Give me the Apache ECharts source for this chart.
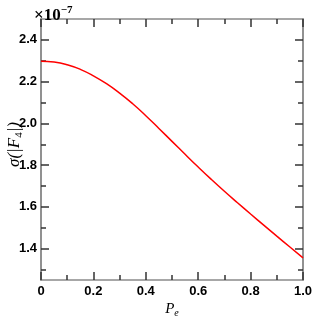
<!DOCTYPE html>
<html><head><meta charset="utf-8">
<script src="https://cdn.jsdelivr.net/npm/echarts@6/dist/echarts.min.js"></script>
<style>html,body{margin:0;padding:0;background:#fff}#c{width:317px;height:317px}</style>
</head><body><div id="c"></div>
<script>
const peValues = [0,0.05,0.1,0.15,0.2,0.25,0.3,0.35,0.4,0.45,0.5,0.55,0.6,0.65,0.7,0.75,0.8,0.85,0.9,0.95,1.0];
const sigmaValues = [2.298,2.294,2.281,2.259,2.228,2.190,2.145,2.094,2.037,1.976,1.914,1.852,1.791,1.732,1.675,1.620,1.566,1.513,1.460,1.408,1.356];
const yMajorTicks = [1.4,1.6,1.8,2.0,2.2,2.4];
const yMinorTicks = [1.3,1.5,1.7,1.9,2.1,2.3];
const yMin = 1.25, yMax = 2.5;

const axisLineColor = '#8a8a8a';
const tickColor = '#333';
const labelFont = {fontFamily:'Liberation Sans, Arial', fontWeight:'bold', fontSize:13, color:'#000'};

function yAx(pos, ticks, len, showLabel, extra){
  return Object.assign({
    type:'value', position:pos, min:yMin, max:yMax,
    axisLine:{show:true, onZero:false, lineStyle:{color:axisLineColor, width:1.5}},
    axisTick:{show:true, inside:true, length:len, customValues:ticks, lineStyle:{color:tickColor, width:1.5}},
    axisLabel:{show:showLabel, customValues:ticks, margin:4, formatter:v=>v.toFixed(1), ...labelFont},
    splitLine:{show:false}
  }, extra||{});
}

const chart = echarts.init(document.getElementById('c'));
chart.setOption({
  animation:false,
  grid:{left:41, right:14, top:19, bottom:37, containLabel:false, outerBoundsMode:'none'},
  title:{
    left:29, top:0,
    text:'{b|×10}{s|−7}',
    textStyle:{rich:{
      b:{fontFamily:'Liberation Serif, Times New Roman', fontSize:17, color:'#000', lineHeight:19, verticalAlign:'bottom'},
      s:{fontFamily:'Liberation Serif, Times New Roman', fontSize:11, color:'#000', lineHeight:19, verticalAlign:'top'}
    }}
  },
  xAxis:[
    {type:'value', position:'bottom', min:0, max:1, interval:0.2,
     axisLine:{show:true, onZero:false, lineStyle:{color:axisLineColor, width:1.5}},
     axisTick:{show:true, inside:true, length:8, lineStyle:{color:tickColor, width:1.5}},
     minorTick:{show:true, splitNumber:2, length:5, lineStyle:{color:tickColor, width:1.5}},
     axisLabel:{margin:5, formatter:v=> v===0?'0':v.toFixed(1), ...labelFont},
     splitLine:{show:false},
     name:'{i|P}{s|e}', nameLocation:'middle', nameGap:22, nameMoveOverlap:false,
     nameTextStyle:{rich:{
       i:{fontFamily:'Liberation Serif, Times New Roman', fontStyle:'italic', fontSize:15, color:'#000', lineHeight:16, verticalAlign:'top'},
       s:{fontFamily:'Liberation Serif, Times New Roman', fontStyle:'italic', fontSize:10, color:'#000', lineHeight:16, verticalAlign:'bottom'}
     }}
    },
    {type:'value', position:'top', min:0, max:1, interval:0.2,
     axisLine:{show:true, onZero:false, lineStyle:{color:axisLineColor, width:1.5}},
     axisTick:{show:true, inside:true, length:8, lineStyle:{color:tickColor, width:1.5}},
     minorTick:{show:true, splitNumber:2, length:5, lineStyle:{color:tickColor, width:1.5}},
     axisLabel:{show:false}, splitLine:{show:false}
    }
  ],
  yAxis:[
    yAx('left', yMajorTicks, 8, true, {
      name:'{a|σ(|}{i|F}{s|4}{a||)}', nameLocation:'middle', nameGap:16, nameRotate:90, nameMoveOverlap:false,
      nameTextStyle:{padding:[0,0,0,10], rich:{
        a:{fontFamily:'Liberation Serif, Times New Roman', fontStyle:'italic', fontSize:17, color:'#000', lineHeight:20, verticalAlign:'middle'},
        i:{fontFamily:'Liberation Serif, Times New Roman', fontStyle:'italic', fontSize:17, color:'#000', lineHeight:20, verticalAlign:'middle'},
        s:{fontFamily:'Liberation Serif, Times New Roman', fontSize:11, color:'#000', lineHeight:20, verticalAlign:'bottom'}
      }}
    }),
    yAx('left', yMinorTicks, 5, false),
    yAx('right', yMajorTicks, 8, false),
    yAx('right', yMinorTicks, 5, false)
  ],
  series:[{
    type:'line', xAxisIndex:0, yAxisIndex:0, smooth:true, showSymbol:false,
    lineStyle:{color:'#ff0000', width:1.5},
    data: peValues.map((x,i)=>[x, sigmaValues[i]])
  }]
});
</script></body></html>
